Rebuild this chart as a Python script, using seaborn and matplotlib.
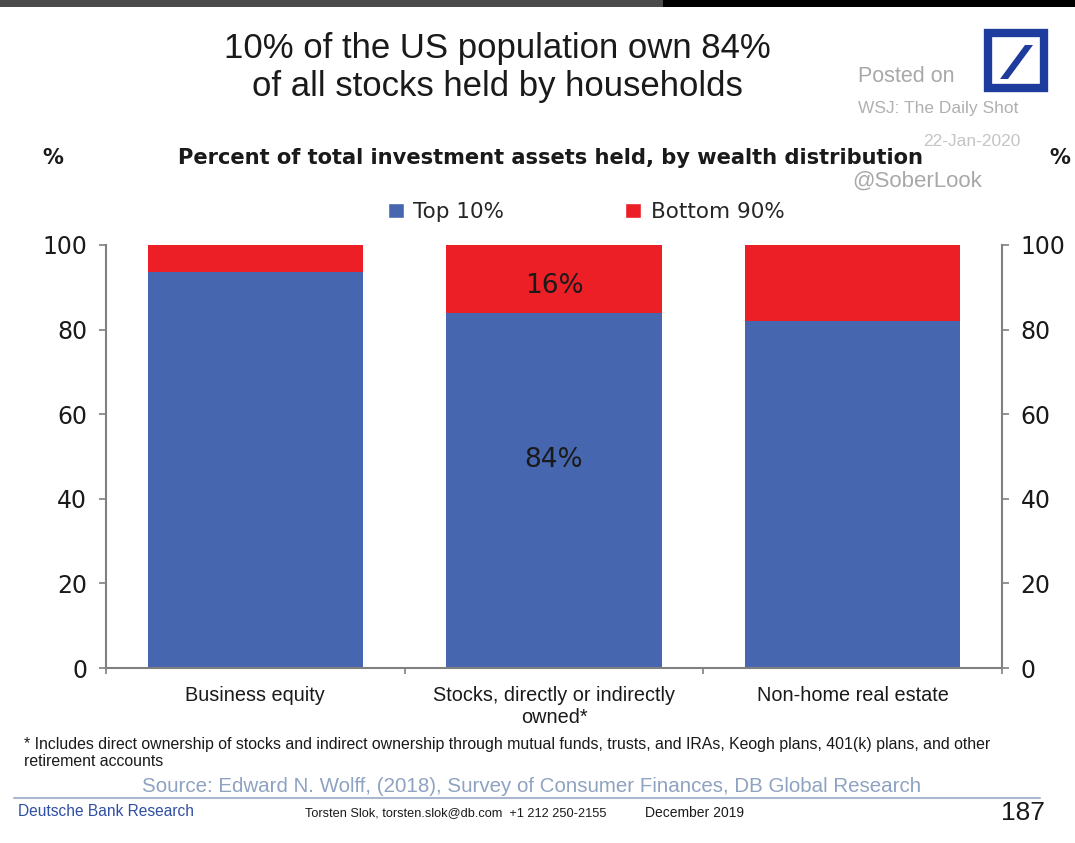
import matplotlib
matplotlib.use("Agg")
import matplotlib.pyplot as plt
import seaborn as sns
import pandas as pd
from matplotlib.patches import Rectangle, Polygon
from matplotlib.lines import Line2D
from matplotlib.ticker import FixedLocator

categories = ["Business equity", "Stocks, directly or indirectly\nowned*", "Non-home real estate"]
top10 = [93.5, 84.0, 82.0]
bottom90 = [6.5, 16.0, 18.0]
series_names = ["Top 10%", "Bottom 90%"]
y_ticks = [0, 20, 40, 60, 80, 100]

BLUE = "#4766b0"
RED = "#ec1f26"
WIDE = ["DejaVu Sans"]

sns.set_theme(style="white")
plt.rcParams['font.family'] = ['Liberation Sans', 'DejaVu Sans']

df = pd.DataFrame({"category": categories, "top": top10, "bottom": bottom90})
df["total"] = df["top"] + df["bottom"]

fig = plt.figure(figsize=(10.75, 8.43), dpi=100)
fig.patch.set_facecolor("white")
ax = fig.add_axes([106/1075, 1-668/843, (1002-106)/1075, (668-245)/843])

sns.barplot(data=df, x="category", y="total", color=RED, width=0.72, ax=ax,
            saturation=1, edgecolor="none", linewidth=0)
sns.barplot(data=df, x="category", y="top", color=BLUE, width=0.72, ax=ax,
            saturation=1, edgecolor="none", linewidth=0)

ax.set_xlim(-0.5, 2.5)
ax.set_ylim(0, 100)
ax.set_xlabel("")
ax.set_ylabel("")
ax.set_yticks(y_ticks)
ax.set_yticklabels([str(t) for t in y_ticks])
ax.tick_params(axis="y", which="both", left=True, right=True, labelleft=True, labelright=True,
               length=5, width=1.2, color="#808080", pad=8.5, labelcolor="#1a1a1a", direction="out",
               labelsize=17)
for lab in ax.yaxis.get_ticklabels(which="major"):
    lab.set_fontfamily(WIDE)
for t in ax.yaxis.get_major_ticks():
    t.label2.set_fontfamily(WIDE)
ax.tick_params(axis="x", which="major", length=0, pad=13, labelsize=14.3, labelcolor="#1a1a1a")
ax.xaxis.set_minor_locator(FixedLocator([-0.5, 0.5, 1.5, 2.5]))
ax.tick_params(axis="x", which="minor", bottom=True, length=4, width=1.2, color="#808080", direction="out")
for s in ["left", "right", "bottom"]:
    ax.spines[s].set_visible(True)
    ax.spines[s].set_color("#808080")
    ax.spines[s].set_linewidth(1.5)
ax.spines["top"].set_visible(False)
ax.grid(False)

# value labels on the stocks bar
i = 1
ax.text(i, df["top"][i] + df["bottom"][i] / 2 - 1.6, f"{df['bottom'][i]:.0f}%", ha="center", va="center",
        fontsize=19, color="#1a1a1a", family=WIDE)
ax.text(i, df["top"][i] * 0.585, f"{df['top'][i]:.0f}%", ha="center", va="center",
        fontsize=19, color="#1a1a1a", family=WIDE)

def fx(x):
    return x / 1075
def fy(y):
    return 1 - y / 843

# top strip
fig.patches.append(Rectangle((0, fy(7)), fx(663), 7/843, transform=fig.transFigure,
                             facecolor="#4a4a4a", edgecolor="none"))
fig.patches.append(Rectangle((fx(663), fy(7)), 1-fx(663), 7/843, transform=fig.transFigure,
                             facecolor="#000000", edgecolor="none"))

# titles
fig.text(fx(497), fy(67.5), "10% of the US population own 84%\nof all stocks held by households",
         ha="center", va="center", fontsize=25, color="#1a1a1a", linespacing=1.17)
fig.text(fx(551), fy(158), "Percent of total investment assets held, by wealth distribution",
         ha="center", va="center", fontsize=15.1, fontweight="bold", color="#1a1a1a", family=WIDE)
fig.text(fx(42), fy(158), "%", ha="left", va="center", fontsize=15, fontweight="bold", color="#1a1a1a", family=WIDE)
fig.text(fx(1070), fy(158), "%", ha="right", va="center", fontsize=15, fontweight="bold", color="#1a1a1a", family=WIDE)

# legend
handles = [Rectangle((0, 0), 1, 1, facecolor=BLUE), Rectangle((0, 0), 1, 1, facecolor=RED)]
leg = fig.legend(handles, series_names, loc="center", bbox_to_anchor=(fx(586), fy(212)), ncol=2,
                 frameon=False, handlelength=0.75, handleheight=0.75, handletextpad=0.45,
                 columnspacing=5.6, prop={"family": WIDE, "size": 15.5})

# watermark
fig.text(fx(858), fy(77), "Posted on", ha="left", va="center", fontsize=15.5, color="#a8a8a8")
fig.text(fx(858), fy(109), "WSJ: The Daily Shot", ha="left", va="center", fontsize=12.5, color="#b0b0b0")
fig.text(fx(1020), fy(141), "22-Jan-2020", ha="right", va="center", fontsize=12.5, color="#c4c4c4")
fig.text(fx(852), fy(181), "@SoberLook", ha="left", va="center", fontsize=16, color="#a8a8a8")

# logo
LOGO = "#1e3c9e"
fig.patches.append(Rectangle((fx(988), fy(88)), fx(56), 55/843, transform=fig.transFigure,
                             facecolor="none", edgecolor=LOGO, linewidth=6))
fig.patches.append(Polygon([(fx(1000), fy(79)), (fx(1008), fy(79)), (fx(1033), fy(45)), (fx(1025), fy(45))],
                           closed=True, transform=fig.transFigure, facecolor=LOGO, edgecolor="none"))

# footnote and footer
fig.text(fx(24), fy(753), "* Includes direct ownership of stocks and indirect ownership through mutual funds, trusts, and IRAs, Keogh plans, 401(k) plans, and other\nretirement accounts",
         ha="left", va="center", fontsize=11.4, color="#1a1a1a", linespacing=1.1)
fig.text(fx(532), fy(786), "Source: Edward N. Wolff, (2018), Survey of Consumer Finances, DB Global Research",
         ha="center", va="center", fontsize=14.8, color="#8ea2c2")
fig.lines.append(Line2D([fx(14), fx(1040)], [fy(798), fy(798)], transform=fig.transFigure,
                        color="#a9b8cf", linewidth=1.5))
fig.text(fx(18), fy(812), "Deutsche Bank Research", ha="left", va="center", fontsize=11.2, color="#2f4fa5")
fig.text(fx(305), fy(813), "Torsten Slok, torsten.slok@db.com  +1 212 250-2155", ha="left", va="center",
         fontsize=9.2, color="#1a1a1a")
fig.text(fx(645), fy(813), "December 2019", ha="left", va="center", fontsize=10, color="#1a1a1a")
fig.text(fx(1045), fy(813), "187", ha="right", va="center", fontsize=19, color="#1a1a1a")

fig.savefig("out.png", dpi=100)
